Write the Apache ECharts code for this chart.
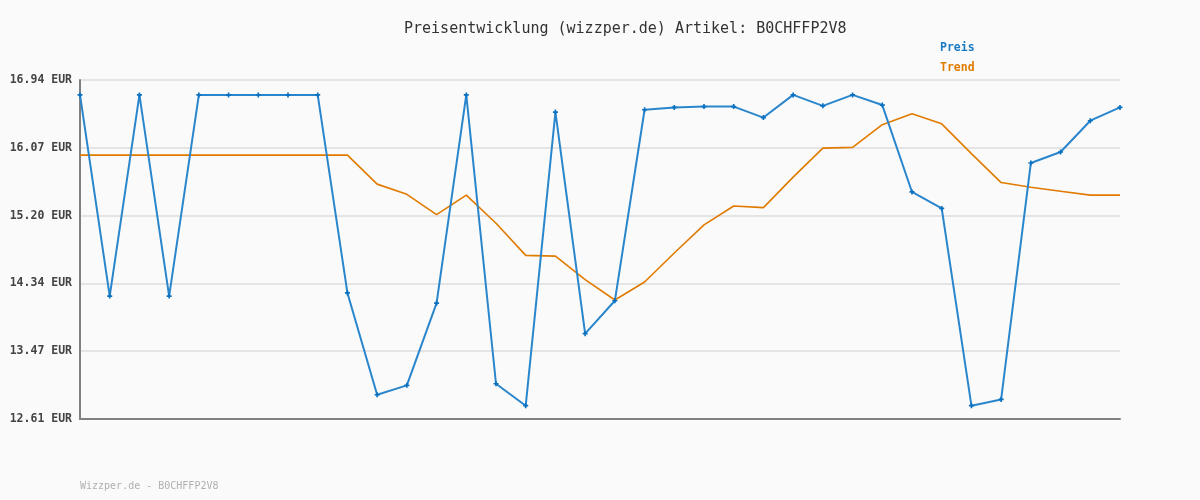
<!DOCTYPE html>
<html>
<head>
<meta charset="utf-8">
<script src="https://cdn.jsdelivr.net/npm/echarts@6/dist/echarts.min.js"></script>
<style>
html,body{margin:0;padding:0;background:#fafafa;}
#c{width:1200px;height:500px;}
</style>
</head>
<body>
<div id="c"></div>
<script>
const categories = Array.from({length: 36}, (_, i) => String(i + 1));
const preis = [16.75,14.18,16.75,14.18,16.75,16.75,16.75,16.75,16.75,14.22,12.92,13.04,14.09,16.75,13.06,12.78,16.53,13.70,14.12,16.56,16.59,16.60,16.60,16.46,16.75,16.61,16.75,16.62,15.51,15.30,12.78,12.86,15.88,16.02,16.42,16.59];
const trend = [15.98,15.98,15.98,15.98,15.98,15.98,15.98,15.98,15.98,15.98,15.61,15.48,15.22,15.47,15.11,14.70,14.69,14.39,14.13,14.36,14.73,15.09,15.33,15.31,15.70,16.07,16.08,16.37,16.51,16.38,16.00,15.63,15.57,15.52,15.47,15.47];
const yTickValues = [12.61, 13.476, 14.342, 15.208, 16.074, 16.94];
const yTickLabels = ["12.61 EUR","13.47 EUR","14.34 EUR","15.20 EUR","16.07 EUR","16.94 EUR"];

const mono = "'DejaVu Sans Mono', 'Liberation Mono', monospace";
const plus = 'path://M2,0h2v2h2v2h-2v2h-2v-2h-2v-2h2z';
const chart = echarts.init(document.getElementById('c'), null, {renderer: 'canvas'});
chart.setOption({
  backgroundColor: '#fafafa',
  animation: false,
  title: {
    text: 'Preisentwicklung (wizzper.de) Artikel: B0CHFFP2V8',
    left: 399, top: 17,
    textStyle: {fontFamily: mono, fontSize: 15, fontWeight: 'normal', color: '#333'}
  },
  graphic: [{
    type: 'text', left: 80, top: 481,
    style: {text: 'Wizzper.de - B0CHFFP2V8', font: "10px 'DejaVu Sans Mono', monospace", fill: '#b0b0b0'}
  }],
  legend: {
    orient: 'vertical', left: 930, top: 37, itemGap: 8,
    itemWidth: 0, itemHeight: 0, icon: 'none',
    data: [
      {name: 'Preis', textStyle: {color: '#1a7bc4'}},
      {name: 'Trend', textStyle: {color: '#e07b00'}}
    ],
    textStyle: {fontFamily: mono, fontSize: 11.5, fontWeight: 'bold'}
  },
  grid: {left: 80, right: 80, top: 80, bottom: 81},
  xAxis: {
    type: 'category', data: categories, boundaryGap: false,
    axisLine: {lineStyle: {color: '#808080', width: 2}},
    axisTick: {show: false}, axisLabel: {show: false}, splitLine: {show: false}
  },
  yAxis: {
    type: 'value', min: 12.61, max: 16.94, interval: 0.866,
    axisLine: {show: true, lineStyle: {color: '#808080', width: 2}},
    axisTick: {show: false},
    axisLabel: {
      margin: 8, fontFamily: mono, fontSize: 11.5, fontWeight: 'bold', color: '#444',
      formatter: function (v) {
        let best = 0;
        for (let i = 1; i < yTickValues.length; i++) {
          if (Math.abs(yTickValues[i] - v) < Math.abs(yTickValues[best] - v)) best = i;
        }
        return yTickLabels[best];
      }
    },
    splitLine: {show: true, lineStyle: {color: '#e4e4e4', width: 2}}
  },
  series: [
    {
      name: 'Preis', type: 'line', data: preis, color: '#1a7bc4',
      lineStyle: {width: 2, color: '#2a86cc'},
      symbol: plus, symbolSize: 5, showSymbol: true,
      itemStyle: {color: '#0a70c0'}, z: 3
    },
    {
      name: 'Trend', type: 'line', data: trend, color: '#e07b00',
      lineStyle: {width: 1.6, color: '#e07b00'},
      symbol: 'none', z: 2
    }
  ]
});
</script>
</body>
</html>
